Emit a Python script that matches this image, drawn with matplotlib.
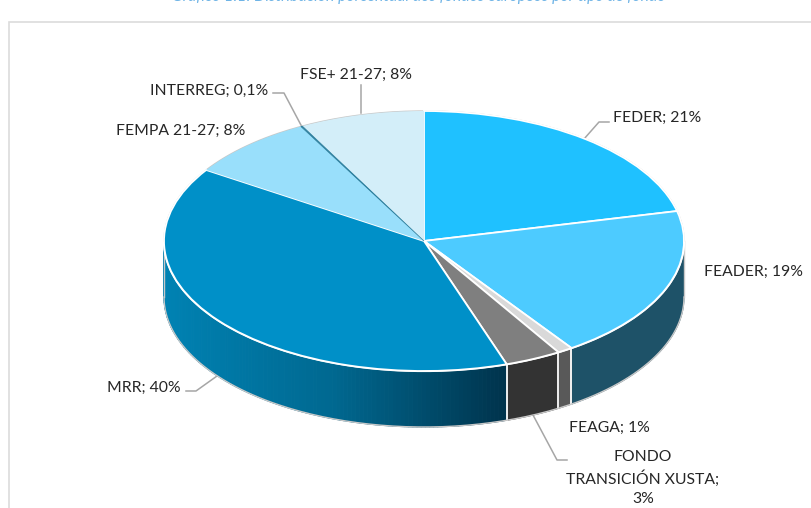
import numpy as np
import matplotlib
matplotlib.use("Agg")
import matplotlib.pyplot as plt
from matplotlib.colors import LinearSegmentedColormap

# chart data
funds = ['FEDER', 'FEADER', 'FEAGA', 'FONDO TRANSICIÓN XUSTA', 'MRR', 'FEMPA 21-27', 'INTERREG', 'FSE+ 21-27']
shares = [21.3, 19.1, 0.95, 3.5, 39.35, 7.95, 0.1, 7.75]
top_colors = ['#1FC1FF', '#4DCBFF', '#D9D9D9', '#7F7F7F', '#0090C8', '#99DFFB', '#2C7F9E', '#D3EEF9']
side_colors = ['#1E5268', '#1E5268', '#595959', '#333333', None, None, None, None]
labels = ['FEDER; 21%', 'FEADER; 19%', 'FEAGA; 1%', 'FONDO\nTRANSICIÓN XUSTA;\n3%', 'MRR; 40%',
          'FEMPA 21-27; 8%', 'INTERREG; 0,1%', 'FSE+ 21-27; 8%']

W, H = 811, 508
plt.rcParams['font.family'] = ['Lato', 'DejaVu Sans']
fig = plt.figure(figsize=(W / 100, H / 100), dpi=100)

# background axes in pixels, for the frame, leaders and texts
bg = fig.add_axes([0, 0, 1, 1], zorder=1)
bg.set_xlim(0, W)
bg.set_ylim(H, 0)
bg.axis('off')
bg.plot([8.5, 8.5, W], [H, 21.5, 21.5], color='#DCDCDC', lw=1.2, solid_joinstyle='miter')

# pie axes: the unit circle fills the ellipse, so it gets squashed
cx, cy, rx, ry, depth_px = 424, 241, 260, 130, 56
ax = fig.add_axes([(cx - rx) / W, 1 - (cy + ry) / H, 2 * rx / W, 2 * ry / H], zorder=2)
wedges, _ = ax.pie(shares, colors=top_colors, startangle=90, counterclock=False, radius=1,
                   wedgeprops={'edgecolor': 'white', 'linewidth': 1.3})
ax.set_aspect('auto')
ax.set_xlim(-1, 1)
ax.set_ylim(-1, 1)
ax.patch.set_alpha(0)
for w in wedges:
    w.set_clip_on(False)
    w.set_zorder(3)
# the light slices at the back have no white border
for i in [5, 7]:
    wedges[i].set_edgecolor('none')
wedges[6].set_zorder(4)
wedges[6].set_linewidth(0.5)
wedges[6].set_edgecolor('#2C7F9E')

depth = depth_px / ry
edges = np.cumsum([0] + shares) / sum(shares) * 2 * np.pi
mrr_cmap = LinearSegmentedColormap.from_list('mrr', ['#00344D', '#006890', '#0082B3'])


def wall(a0, a1, color):
    t = np.linspace(a0, a1, 30)
    xs, ys = np.sin(t), np.cos(t)
    ax.fill(np.r_[xs, xs[::-1]], np.r_[ys, ys[::-1] - depth], facecolor=color, edgecolor=color, lw=0.8,
            clip_on=False, zorder=1)


# front wall, only from the right extreme to the left extreme
for i in range(len(shares)):
    a0 = max(edges[i], np.pi / 2)
    a1 = min(edges[i + 1], 3 * np.pi / 2)
    if a1 <= a0:
        continue
    if i == 4:
        steps = np.linspace(a0, a1, 120)
        for s0, s1 in zip(steps[:-1], steps[1:]):
            wall(s0, s1, mrr_cmap((np.sin(a0) - np.sin(s0)) / (np.sin(a0) + 1)))
    else:
        wall(a0, a1, side_colors[i])

# white seams on the wall and under the rim
for i in range(1, 4):
    a = edges[i + 1]
    ax.plot([np.sin(a)] * 2, [np.cos(a), np.cos(a) - depth], color='white', lw=1.3, clip_on=False, zorder=2)
t = np.linspace(np.pi / 2, 3 * np.pi / 2, 200)
ax.plot(np.sin(t), np.cos(t), color='white', lw=1.6, clip_on=False, zorder=2.5)
# thin grey outline of the whole solid
ax.plot(np.sin(t), np.cos(t) - depth, color='#C8C8C8', lw=1, clip_on=False, zorder=2)
t = np.linspace(-np.pi / 2, np.pi / 2, 200)
ax.plot(np.sin(t), np.cos(t), color='#C8C8C8', lw=1, clip_on=False, zorder=2.8)
ax.plot([-1, -1], [0, -depth], color='#C8C8C8', lw=1, clip_on=False, zorder=2)
ax.plot([1, 1], [0, -depth], color='#C8C8C8', lw=1, clip_on=False, zorder=2)

# leader lines
leaders = [[(584, 139), (599, 122), (609, 122)],
           [(273, 93), (284, 93), (302, 127)],
           [(361, 85), (361, 113)],
           [(186, 391), (196, 391), (217, 376)],
           [(533, 415), (557, 460), (567, 460)]]
for pts in leaders:
    bg.plot(*zip(*pts), color='#A6A6A6', lw=1.1)

# data labels
label_pos = [(613, 117.5, 'left'), (704, 271.5, 'left'), (569, 428, 'left'), (643, 478, 'center'),
             (107, 387.5, 'left'), (116, 130.5, 'left'), (150, 90.5, 'left'), (300, 74.5, 'left')]
for txt, (x, y, ha) in zip(labels, label_pos):
    bg.text(x, y, txt, ha=ha, va='center', multialignment='center', fontsize=11.3, color='#262626', linespacing=1.45)

# caption, cut off by the top edge of the picture
bg.text(172, 1.5, 'Gráfico 1.1: Distribución porcentual dos fondos europeos por tipo de fondo', ha='left',
        va='baseline', fontsize=11.4, style='italic', color='#6FB4E6', clip_on=False)

fig.savefig('out.png', dpi=100)
